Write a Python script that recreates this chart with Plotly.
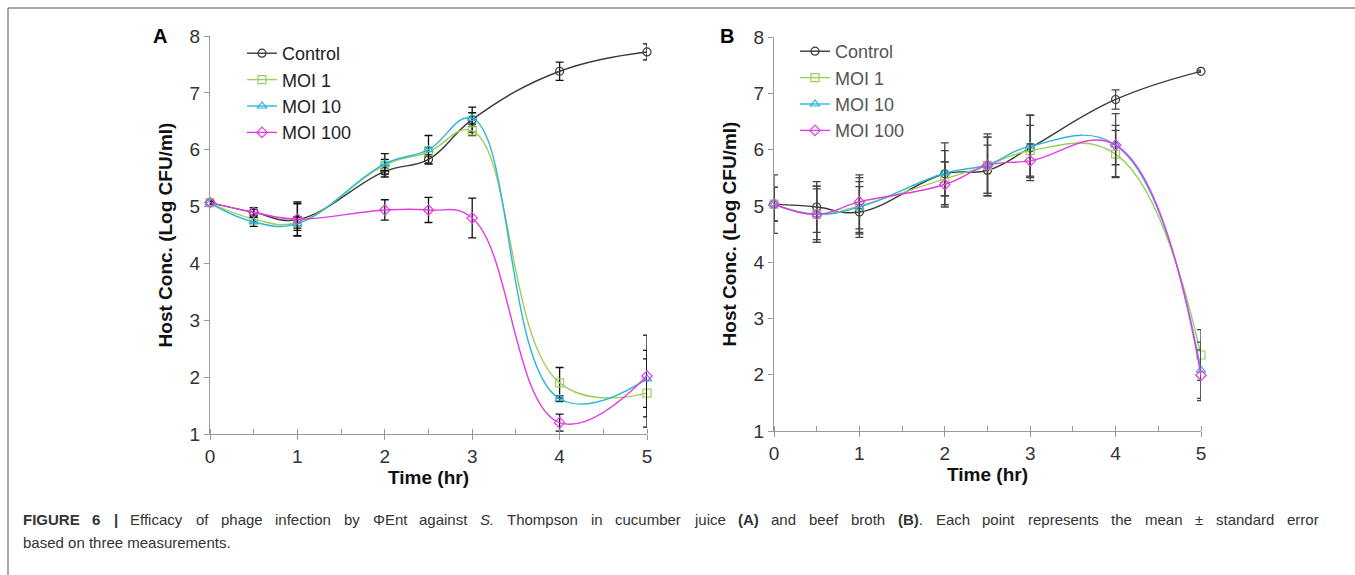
import plotly.graph_objects as go

W, H = 1355, 575

# ---------------- data ----------------
time = [0, 0.5, 1, 2, 2.5, 3, 4, 5]
series_names = ["Control", "MOI 1", "MOI 10", "MOI 100"]

# Panel A: cucumber juice
ctrl_A = [5.07, 4.90, 4.77, 5.62, 5.83, 6.53, 7.38, 7.72]
ctrl_A_err = [0.03, 0.08, 0.28, 0.10, 0.08, 0.22, 0.16, 0.14]
moi1_A = [5.07, 4.78, 4.72, 5.73, 5.96, 6.33, 1.90, 1.72]
moi1_A_err = [0.02, 0.05, 0.10, 0.10, 0.08, 0.08, 0.27, 0.60]
moi10_A = [5.06, 4.73, 4.70, 5.75, 6.00, 6.55, 1.62, 1.97]
moi10_A_err = [0.02, 0.08, 0.12, 0.18, 0.25, 0.10, 0.05, 0.50]
moi100_A = [5.07, 4.90, 4.78, 4.94, 4.94, 4.80, 1.20, 2.02]
moi100_A_err = [0.02, 0.05, 0.30, 0.18, 0.22, 0.35, 0.15, 0.72]

# Panel B: beef broth
ctrl_B = [5.03, 4.98, 4.89, 5.57, 5.63, 6.03, 6.89, 7.39]
ctrl_B_err = [0.52, 0.45, 0.45, 0.55, 0.45, 0.58, 0.17, 0.02]
moi1_B = [5.03, 4.85, 5.00, 5.48, 5.72, 5.98, 5.92, 2.35]
moi1_B_err = [0.30, 0.50, 0.50, 0.30, 0.50, 0.45, 0.42, 0.45]
moi10_B = [5.03, 4.85, 4.98, 5.58, 5.73, 6.06, 6.08, 2.08]
moi10_B_err = [0.30, 0.45, 0.45, 0.40, 0.55, 0.55, 0.56, 0.50]
moi100_B = [5.03, 4.85, 5.07, 5.38, 5.72, 5.80, 6.08, 1.99]
moi100_B_err = [0.30, 0.50, 0.48, 0.40, 0.50, 0.30, 0.35, 0.45]

x_ticks = [0, 1, 2, 3, 4, 5]
y_ticks = [1, 2, 3, 4, 5, 6, 7, 8]

# ---------------- styles ----------------
colors = ["#3A3A3A", "#9BCF5B", "#2DB5DA", "#E23DE2"]
symbols = ["circle-open", "square-open", "triangle-up-open", "diamond-open"]
FONT = "Liberation Sans, Arial, sans-serif"

fig = go.Figure()

def add_panel(vals, errs, xa, ya, legend, err_color):
    for name, v, e, c, s in zip(series_names, vals, errs, colors, symbols):
        fig.add_trace(go.Scatter(
            x=time, y=v, name=name, mode="lines+markers",
            xaxis=xa, yaxis=ya, legend=legend,
            line=dict(color=c, width=1.4, shape="spline", smoothing=1.2),
            marker=dict(symbol=s, size=8, color=c, line=dict(width=1.2, color=c)),
            error_y=dict(type="data", array=e, visible=True, color=err_color,
                         thickness=1.3, width=4),
            cliponaxis=False,
        ))

add_panel([ctrl_A, moi1_A, moi10_A, moi100_A],
          [ctrl_A_err, moi1_A_err, moi10_A_err, moi100_A_err],
          "x", "y", "legend", "#111111")
add_panel([ctrl_B, moi1_B, moi10_B, moi100_B],
          [ctrl_B_err, moi1_B_err, moi10_B_err, moi100_B_err],
          "x2", "y2", "legend2", "#444444")

def px_x(p):
    return p / W

def px_y(p):
    return 1 - p / H

axis_common = dict(
    showline=True, linecolor="#9A9A9A", linewidth=1.4,
    showgrid=False, zeroline=False, automargin=False,
    ticks="outside", ticklen=5, tickcolor="#9A9A9A", tickwidth=1.2,
    tickfont=dict(family=FONT, size=19, color="#333333"),
)

xaxis_common = dict(axis_common, range=[0, 5], tickvals=x_ticks,
                    minor=dict(dtick=0.5, tick0=0, ticks="inside", ticklen=5,
                               tickcolor="#9A9A9A", tickwidth=1.2),
                    title=dict(text="<b>Time (hr)</b>",
                               font=dict(family=FONT, size=19, color="#111111"),
                               standoff=4))
yaxis_common = dict(axis_common, range=[1, 8], tickvals=y_ticks,
                    title=dict(text="<b>Host Conc. (Log CFU/ml)</b>",
                               font=dict(family=FONT, size=19, color="#111111"),
                               standoff=11))

fig.update_layout(
    width=W, height=H,
    margin=dict(l=0, r=0, t=0, b=0, autoexpand=False),
    paper_bgcolor="white", plot_bgcolor="white",
    font=dict(family=FONT, color="#333333"),
    xaxis=dict(xaxis_common, domain=[px_x(210), px_x(647)], anchor="y"),
    yaxis=dict(yaxis_common, domain=[px_y(434), px_y(36)], anchor="x"),
    xaxis2=dict(xaxis_common, domain=[px_x(774), px_x(1201)], anchor="y2"),
    yaxis2=dict(yaxis_common, domain=[px_y(431), px_y(37)], anchor="x2"),
    legend=dict(x=px_x(242), y=px_y(35), xanchor="left", yanchor="top",
                bgcolor="rgba(0,0,0,0)", tracegroupgap=0, itemwidth=30,
                font=dict(family=FONT, size=18, color="#222222")),
    legend2=dict(x=px_x(795), y=px_y(33), xanchor="left", yanchor="top",
                 bgcolor="rgba(0,0,0,0)", tracegroupgap=0, itemwidth=30,
                 font=dict(family=FONT, size=18, color="#555555")),
    showlegend=True,
)

# frame lines (top and left)
fig.add_shape(type="line", xref="paper", yref="paper",
              x0=px_x(8), x1=1, y0=px_y(8), y1=px_y(8),
              line=dict(color="#555555", width=1))
fig.add_shape(type="line", xref="paper", yref="paper",
              x0=px_x(8), x1=px_x(8), y0=px_y(8), y1=0,
              line=dict(color="#555555", width=1))

# panel letters
fig.add_annotation(text="<b>A</b>", xref="paper", yref="paper",
                   x=px_x(160), y=px_y(36), xanchor="center", yanchor="middle",
                   showarrow=False, font=dict(family=FONT, size=20, color="#000000"))
fig.add_annotation(text="<b>B</b>", xref="paper", yref="paper",
                   x=px_x(727), y=px_y(36), xanchor="center", yanchor="middle",
                   showarrow=False, font=dict(family=FONT, size=20, color="#000000"))

# ---------------- caption (first line justified) ----------------
CAP_SIZE = 15
_norm = {" ": 278, "(": 333, ")": 333, ".": 278, "|": 260, "\u00b1": 549, "\u03a6": 764}
_norm.update({c: w for c, w in zip("ABCDEFGHIJKLMNOPQRSTUVWXYZ",
              [667, 667, 722, 722, 667, 611, 778, 722, 278, 500, 667, 556, 833,
               722, 778, 667, 778, 722, 667, 611, 722, 667, 944, 667, 667, 611])})
_norm.update({c: w for c, w in zip("abcdefghijklmnopqrstuvwxyz",
              [556, 556, 500, 556, 556, 278, 556, 556, 222, 222, 500, 222, 833,
               556, 556, 556, 556, 333, 500, 278, 556, 500, 722, 500, 500, 500])})
_norm.update({c: 556 for c in "0123456789"})
_bold = dict(_norm)
_bold.update({"A": 722, "B": 722, "F": 611, "G": 778, "I": 278, "R": 722,
              "U": 722, "E": 667, "|": 280})

def text_w(s, bold=False):
    tbl = _bold if bold else _norm
    return sum(tbl.get(c, 556) for c in s) * CAP_SIZE / 1000.0

cap1_tokens = [
    ("<b>FIGURE</b>", [("FIGURE", True)]),
    ("<b>6</b>", [("6", True)]),
    ("<b>|</b>", [("|", True)]),
    ("Efficacy", [("Efficacy", False)]),
    ("of", [("of", False)]),
    ("phage", [("phage", False)]),
    ("infection", [("infection", False)]),
    ("by", [("by", False)]),
    ("\u03a6Ent", [("\u03a6Ent", False)]),
    ("against", [("against", False)]),
    ("<i>S.</i>", [("S.", False)]),
    ("Thompson", [("Thompson", False)]),
    ("in", [("in", False)]),
    ("cucumber", [("cucumber", False)]),
    ("juice", [("juice", False)]),
    ("<b>(A)</b>", [("(A)", True)]),
    ("and", [("and", False)]),
    ("beef", [("beef", False)]),
    ("broth", [("broth", False)]),
    ("<b>(B)</b>.", [("(B)", True), (".", False)]),
    ("Each", [("Each", False)]),
    ("point", [("point", False)]),
    ("represents", [("represents", False)]),
    ("the", [("the", False)]),
    ("mean", [("mean", False)]),
    ("\u00b1", [("\u00b1", False)]),
    ("standard", [("standard", False)]),
    ("error", [("error", False)]),
]
cap2 = "based on three measurements."

left_px, right_px = 22, 1318
widths = [sum(text_w(s, b) for s, b in parts) for _, parts in cap1_tokens]
gap = (right_px - left_px - sum(widths)) / (len(widths) - 1)
xpos = left_px
for (html, _), w in zip(cap1_tokens, widths):
    fig.add_annotation(text=html, xref="paper", yref="paper",
                       x=px_x(xpos), y=px_y(519), xanchor="left", yanchor="middle",
                       showarrow=False, borderpad=0,
                       font=dict(family=FONT, size=CAP_SIZE, color="#333333"))
    xpos += w + gap

fig.add_annotation(text=cap2, xref="paper", yref="paper",
                   x=px_x(left_px), y=px_y(542), xanchor="left", yanchor="middle",
                   showarrow=False, borderpad=0,
                   font=dict(family=FONT, size=CAP_SIZE, color="#333333"))

fig.write_html("out.html", config={"displayModeBar": False},
               post_script="document.body.style.margin='0px';")
